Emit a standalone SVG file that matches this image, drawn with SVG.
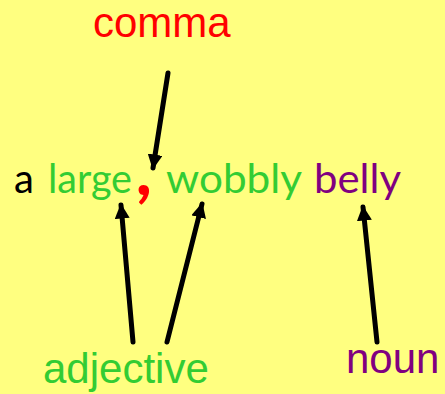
<svg xmlns="http://www.w3.org/2000/svg" width="445" height="394" viewBox="0 0 445 394">
<defs>
<style>
.lbl{font-family:"Liberation Sans",Arial,sans-serif;font-size:42px}
.sent{font-family:Lato,"Open Sans",sans-serif;font-size:40px}
.arr{stroke:#000;stroke-width:5;stroke-linecap:round;fill:none;marker-end:url(#ah)}
</style>
<marker id="ah" viewBox="0 0 10 10" refX="9" refY="5" markerWidth="3" markerHeight="3" orient="auto" markerUnits="strokeWidth">
<path d="M0,0 L10,5 L0,10 z" fill="#000"/>
</marker>
</defs>
<rect width="445" height="394" fill="#ffff80"/>
<g id="sentence" class="sent">
<text x="14" y="193" fill="#000">a</text>
<text x="48" y="193" fill="#33cc33" textLength="84" lengthAdjust="spacingAndGlyphs">large</text>
<text x="136" y="195" fill="#ff0000" font-weight="900" font-size="66">,</text>
<text x="166" y="193" fill="#33cc33" textLength="136" lengthAdjust="spacingAndGlyphs">wobbly</text>
<text x="314" y="193" fill="#800080" textLength="87" lengthAdjust="spacingAndGlyphs">belly</text>
</g>
<g id="comma-label"><text class="lbl" x="93" y="37" fill="#ff0000">comma</text></g>
<g id="adjective-label"><text class="lbl" x="43" y="383" fill="#33cc33">adjective</text></g>
<g id="noun-label"><text class="lbl" x="346" y="373" fill="#800080">noun</text></g>
<g id="connectors">
<line class="arr" x1="168" y1="73" x2="153" y2="168"/>
<line class="arr" x1="133" y1="342" x2="121" y2="205"/>
<line class="arr" x1="167" y1="342" x2="202" y2="204"/>
<line class="arr" x1="377" y1="342" x2="363" y2="207"/>
</g>
</svg>
